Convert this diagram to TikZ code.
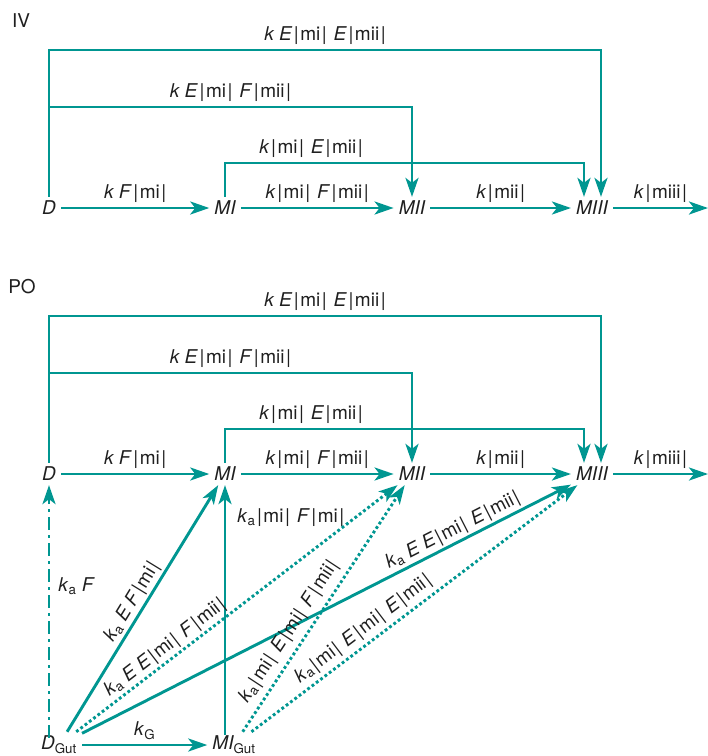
\documentclass[tikz,border=0pt]{standalone}
\usepackage{fontspec}
\setmainfont{TeX Gyre Heros}
\usepackage{xcolor}
\usepackage{tikz}
\usetikzlibrary{arrows.meta}
\definecolor{flowteal}{RGB}{0, 150, 145}
\newcommand{\absv}[1]{\hspace{0.08em}|\hspace{0.08em}#1\hspace{0.08em}|\hspace{0.08em}}
\newcommand{\kA}{\textit{k}\textsubscript{a}}

\begin{document}
\begin{tikzpicture}[
  x=1pt, y=-1pt,
  every node/.style={font=\fontsize{19}{22}\selectfont, text=black!88},
  species/.style={font=\fontsize{19}{22}\selectfont\itshape, inner xsep=5pt, inner ysep=4pt},
  flow/.style={-{Stealth[length=19pt, width=13pt, inset=5pt]}, line width=2.9pt, draw=flowteal},
  dotflow/.style={flow, dash pattern=on 2.8pt off 2.6pt},
  dashdotflow/.style={flow, dash pattern=on 13pt off 5pt on 3pt off 5pt},
  rate/.style={inner sep=1pt, above=3pt},
  slrate/.style={inner sep=1pt, sloped, above=1pt}
]
  \useasboundingbox (0,0) rectangle (708,756);

  % IV
  \node (ivtitle) at (21,21) {IV};
  \node[species] (Div) at (49,208) {D};
  \node[species] (MIiv) at (225,208) {MI};
  \node[species] (MIIiv) at (412,208) {MII};
  \node[species] (MIIIiv) at (592,208) {MIII};
  \coordinate (outiv) at (708,208);
  \coordinate (topiv) at (0,50);
  \coordinate (midiv) at (0,107);
  \coordinate (lowiv) at (0,163);

  \draw[flow] (Div) -- node[rate]{\textit{k F}\absv{mi}} (MIiv);
  \draw[flow] (MIiv) -- node[rate]{\textit{k}\absv{mi} \textit{F}\absv{mii}} (MIIiv);
  \draw[flow] (MIIiv) -- node[rate]{\textit{k}\absv{mii}} (MIIIiv);
  \draw[flow] (MIIIiv) -- node[rate]{\textit{k}\absv{miii}} (MIIIiv -| outiv);
  \draw[flow] (Div.north) -- (Div.north |- topiv) -- node[rate]{\textit{k E}\absv{mi} \textit{E}\absv{mii}} ([xshift=9pt]MIIIiv.north |- topiv) -- ([xshift=9pt]MIIIiv.north);
  \draw[flow] (Div.north |- midiv) -- node[rate]{\textit{k E}\absv{mi} \textit{F}\absv{mii}} (MIIiv.north |- midiv) -- (MIIiv.north);
  \draw[flow] (MIiv.north) -- (MIiv.north |- lowiv) -- node[rate, pos=0.24]{\textit{k}\absv{mi} \textit{E}\absv{mii}} ([xshift=-8pt]MIIIiv.north |- lowiv) -- ([xshift=-8pt]MIIIiv.north);

  % PO
  \node (potitle) at (22,287) {PO};
  \node[species] (Dpo) at (49,474) {D};
  \node[species] (MIpo) at (225,474) {MI};
  \node[species] (MIIpo) at (412,474) {MII};
  \node[species] (MIIIpo) at (592,474) {MIII};
  \coordinate (outpo) at (708,474);
  \coordinate (toppo) at (0,316);
  \coordinate (midpo) at (0,373);
  \coordinate (lowpo) at (0,429);

  \draw[flow] (Dpo) -- node[rate]{\textit{k F}\absv{mi}} (MIpo);
  \draw[flow] (MIpo) -- node[rate]{\textit{k}\absv{mi} \textit{F}\absv{mii}} (MIIpo);
  \draw[flow] (MIIpo) -- node[rate]{\textit{k}\absv{mii}} (MIIIpo);
  \draw[flow] (MIIIpo) -- node[rate]{\textit{k}\absv{miii}} (MIIIpo -| outpo);
  \draw[flow] (Dpo.north) -- (Dpo.north |- toppo) -- node[rate]{\textit{k E}\absv{mi} \textit{E}\absv{mii}} ([xshift=9pt]MIIIpo.north |- toppo) -- ([xshift=9pt]MIIIpo.north);
  \draw[flow] (Dpo.north |- midpo) -- node[rate]{\textit{k E}\absv{mi} \textit{F}\absv{mii}} (MIIpo.north |- midpo) -- (MIIpo.north);
  \draw[flow] (MIpo.north) -- (MIpo.north |- lowpo) -- node[rate, pos=0.24]{\textit{k}\absv{mi} \textit{E}\absv{mii}} ([xshift=-8pt]MIIIpo.north |- lowpo) -- ([xshift=-8pt]MIIIpo.north);

  % Gut
  \node[species] (DGut) at (59,745) {D\textsubscript{\upshape Gut}};
  \node[species] (MIGut) at (234,745) {MI\textsubscript{\upshape Gut}};

  \draw[flow] (DGut) -- node[rate]{\textit{k}\textsubscript{G}} (MIGut);
  \draw[dashdotflow] ([yshift=-6pt]Dpo.south |- DGut.north) -- node[right=7pt, pos=0.6, inner sep=1pt]{\kA\ \textit{F}} (Dpo.south);
  \draw[flow] ([yshift=-3pt]MIpo.south |- MIGut.north) -- node[right=10pt, pos=0.87, inner sep=1pt]{\kA\absv{mi} \textit{F}\absv{mi}} (MIpo.south);
  \draw[flow] (DGut) -- node[slrate, pos=0.5]{\kA\ \textit{E F}\absv{mi}} (MIpo);
  \draw[dotflow] (DGut) -- node[slrate, pos=0.3]{\kA\ \textit{E E}\absv{mi} \textit{F}\absv{mii}} (MIIpo);
  \draw[flow] (DGut) -- node[slrate, pos=0.77]{\kA\ \textit{E E}\absv{mi} \textit{E}\absv{mii}} (MIIIpo);
  \draw[dotflow] (MIGut) -- node[slrate, pos=0.37, above=4pt]{\kA\absv{mi} \textit{E}\absv{mi} \textit{F}\absv{mii}} (MIIpo);
  \draw[dotflow] (MIGut) -- node[slrate, pos=0.37, above=2pt]{\kA\absv{mi} \textit{E}\absv{mi} \textit{E}\absv{mii}} (MIIIpo);

\end{tikzpicture}
\end{document}
